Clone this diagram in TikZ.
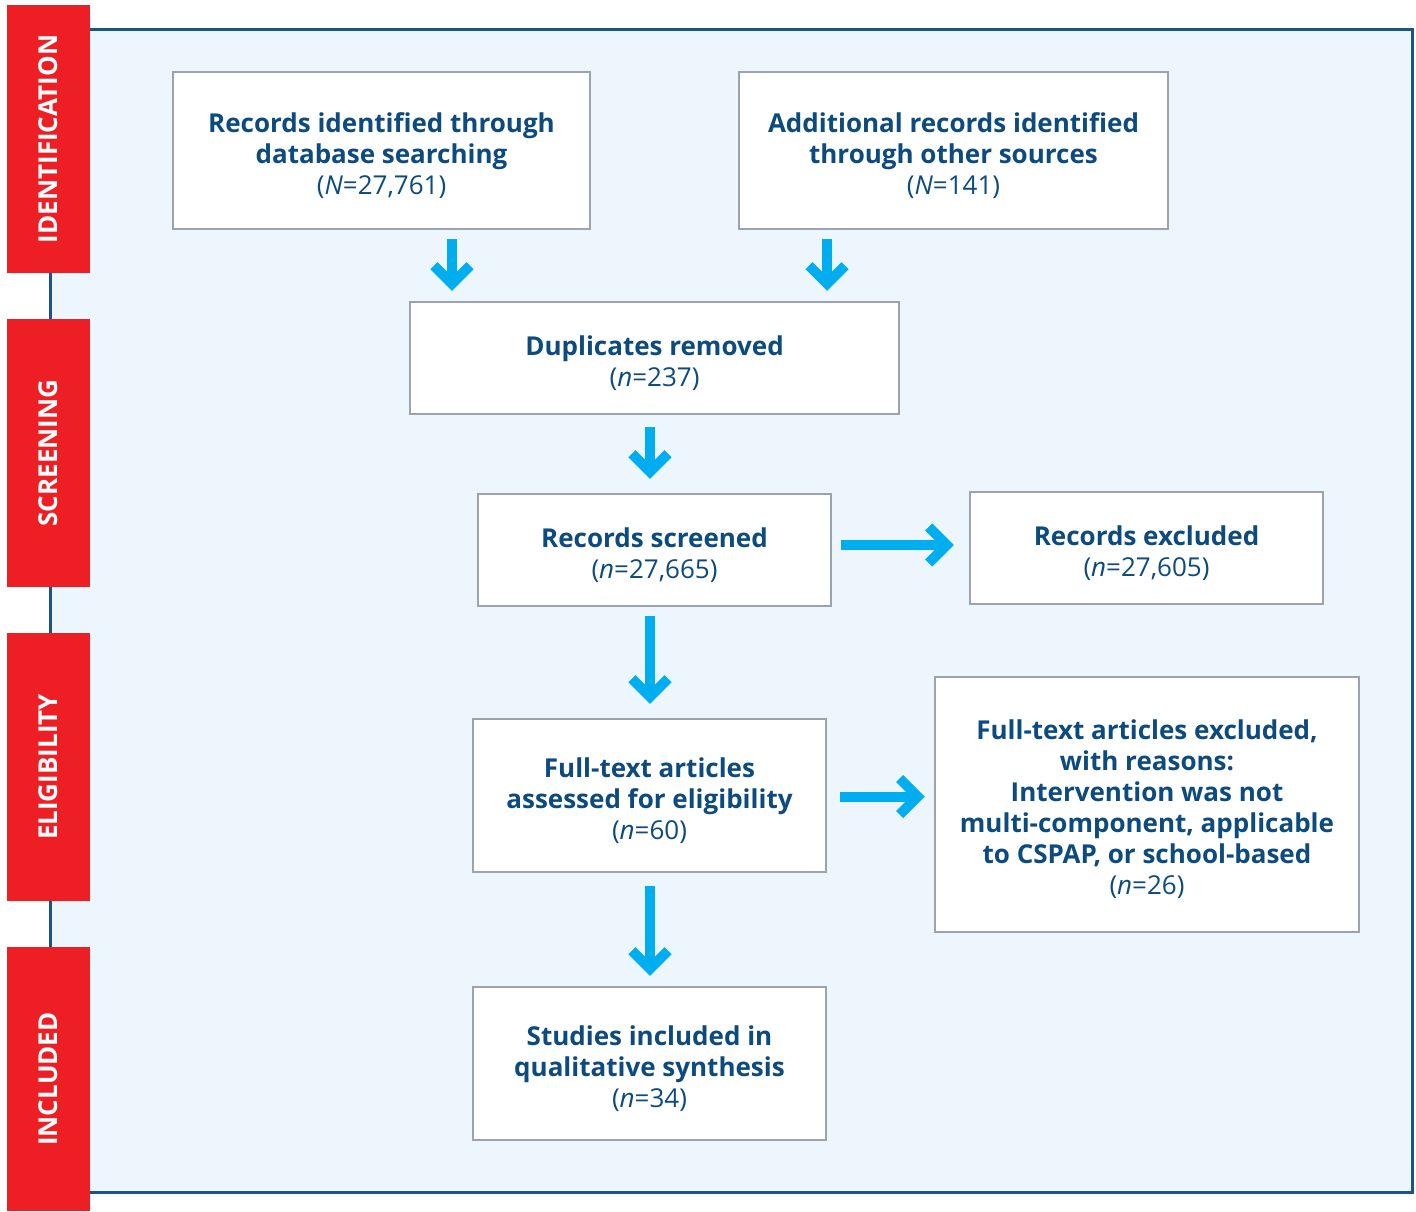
\documentclass[tikz,border=0pt]{standalone}
\usepackage{fontspec}
\setmainfont{Open Sans}
\usetikzlibrary{arrows.meta}
\definecolor{panelfill}{HTML}{EEF6FD}
\definecolor{panelline}{HTML}{1A5587}
\definecolor{tabred}{HTML}{ED1F24}
\definecolor{boxline}{HTML}{9BA4AE}
\definecolor{txtblue}{HTML}{0D4A7E}
\definecolor{arrcyan}{HTML}{00AEEF}
\tikzset{
  box/.style={draw=boxline, line width=2.5pt, fill=white, text=txtblue, align=center,
    inner sep=0pt, font=\fontsize{26}{31}\selectfont},
  tab/.style={fill=tabred, inner sep=0pt},
  tablabel/.style={rotate=90, text=white, font=\fontsize{26}{28}\selectfont\bfseries},
  arr/.style={draw=arrcyan, line width=10pt, line join=miter,
    -{Straight Barb[length=18pt, width=36pt, line width=10pt, line join=miter]}},
}
\newcommand{\cnt}[2]{\mdseries(\textit{#1}=#2)}
\newcommand{\up}{\rule{0pt}{30pt}}
\begin{document}
\begin{tikzpicture}[x=1pt,y=-1pt]
\useasboundingbox (0,0) rectangle (1416,1211);
% panel
\draw[fill=panelfill, draw=panelline, line width=3pt] (50,29) rectangle (1412,1192);
% tabs
\node[tab, minimum width=83pt, minimum height=268pt] (t1) at (48.5,139) {};
\node[tablabel] at (t1.center) {IDENTIFICATION};
\node[tab, minimum width=83pt, minimum height=268pt] (t2) at (48.5,453) {};
\node[tablabel] at (t2.center) {SCREENING};
\node[tab, minimum width=83pt, minimum height=268pt] (t3) at (48.5,767) {};
\node[tablabel] at (t3.center) {ELIGIBILITY};
\node[tab, minimum width=83pt, minimum height=264pt] (t4) at (48.5,1079) {};
\node[tablabel] at (t4.center) {INCLUDED};
% boxes
\node[box, minimum width=417pt, minimum height=157pt] (a) at (381.5,150.5)
  {\bfseries\up Records identified through\\ \bfseries database searching\\ \cnt{N}{27,761}};
\node[box, minimum width=429pt, minimum height=157pt] (b) at (953.5,150.5)
  {\bfseries\up Additional records identified\\ \bfseries through other sources\\ \cnt{N}{141}};
\node[box, minimum width=489pt, minimum height=112pt] (dup) at (654.5,358)
  {\bfseries\up Duplicates removed\\ \cnt{n}{237}};
\node[box, minimum width=353pt, minimum height=112pt] (scr) at (654.5,550)
  {\bfseries\up Records screened\\ \cnt{n}{27,665}};
\node[box, minimum width=353pt, minimum height=112pt] (exc) at (1146.5,548)
  {\bfseries\up Records excluded\\ \cnt{n}{27,605}};
\node[box, minimum width=353pt, minimum height=153pt] (ft) at (649.5,795.5)
  {\bfseries\up Full-text articles\\ \bfseries assessed for eligibility\\ \cnt{n}{60}};
\node[box, minimum width=424pt, minimum height=255pt] (ftx) at (1147,804.5)
  {\bfseries\up Full-text articles excluded,\\ \bfseries with reasons:\\ \bfseries Intervention was not\\ \bfseries multi-component, applicable\\ \bfseries to CSPAP, or school-based\\ \cnt{n}{26}};
\node[box, minimum width=353pt, minimum height=153pt] (inc) at (649.5,1063.5)
  {\bfseries\up Studies included in\\ \bfseries qualitative synthesis\\ \cnt{n}{34}};
% arrows
\draw[arr, shorten <=9pt, shorten >=10pt] ([xshift=70.5pt]a.south) -- ([xshift=70.5pt]a.south |- dup.north);
\draw[arr, shorten <=9pt, shorten >=10pt] ([xshift=-126.5pt]b.south) -- ([xshift=-126.5pt]b.south |- dup.north);
\draw[arr, shorten <=12pt, shorten >=14pt] ([xshift=-4.5pt]dup.south) -- ([xshift=-4.5pt]scr.north);
\draw[arr, shorten <=9pt, shorten >=14pt] ([xshift=-4.5pt]scr.south) -- ([xshift=-4.5pt]scr.south |- ft.north);
\draw[arr, shorten <=13pt, shorten >=10pt] ([xshift=0.5pt]ft.south) -- ([xshift=0.5pt]ft.south |- inc.north);
\draw[arr, shorten <=9pt, shorten >=15pt] ([yshift=5pt]scr.east) -- ([yshift=5pt]scr.east -| exc.west);
\draw[arr, shorten <=13pt, shorten >=9pt] ([yshift=-1pt]ft.east) -- ([yshift=-1pt]ft.east -| ftx.west);
\end{tikzpicture}
\end{document}
